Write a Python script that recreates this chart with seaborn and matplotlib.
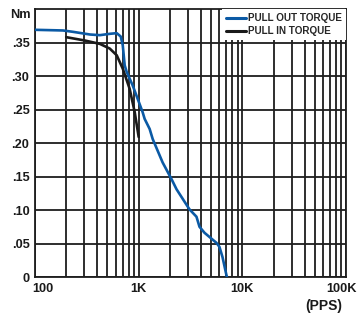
import matplotlib
matplotlib.use("Agg")
import matplotlib.pyplot as plt
import matplotlib.ticker as mticker
import matplotlib.transforms as mtransforms
import numpy as np
import pandas as pd
import seaborn as sns

# values (freq in PPS, torque in Nm)
pull_out_pps = [100, 186, 232, 338, 422, 526, 614, 671, 702, 733, 767, 875,
                1092, 1142, 1276, 1365, 1702, 2076, 2318, 3090, 3610, 3860,
                4316, 5627, 6010, 6430, 7020, 7100]
pull_out_nm = [0.369, 0.368, 0.366, 0.362, 0.361, 0.363, 0.364, 0.359, 0.346,
               0.316, 0.306, 0.286, 0.246, 0.236, 0.221, 0.206, 0.171, 0.146,
               0.131, 0.101, 0.090, 0.075, 0.066, 0.051, 0.045, 0.030, 0.003,
               0.0]

pull_in_pps = [200, 303, 422, 526, 614, 702, 818, 916, 1000]
pull_in_nm = [0.358, 0.353, 0.348, 0.341, 0.331, 0.311, 0.281, 0.246, 0.209]

series_names = ["PULL OUT TORQUE", "PULL IN TORQUE"]
series_colors = ["#0b5aa5", "#1a1a1a"]

y_ticks = [0, 0.05, 0.10, 0.15, 0.20, 0.25, 0.30, 0.35]
y_labels = ["0", ".05", ".10", ".15", ".20", ".25", ".30", ".35"]
x_ticks = [100, 1000, 10000, 100000]
x_labels = ["100", "1K", "10K", "100K"]

df = pd.concat([
    pd.DataFrame({"pps": pull_out_pps, "nm": pull_out_nm, "curve": series_names[0]}),
    pd.DataFrame({"pps": pull_in_pps, "nm": pull_in_nm, "curve": series_names[1]}),
])

sns.set_style("white")
fam = ["Liberation Sans Narrow", "Liberation Sans", "DejaVu Sans"]
plt.rcParams["font.family"] = fam
plt.rcParams["font.weight"] = "bold"

fig = plt.figure(figsize=(3.58, 3.16), dpi=100)
ax = fig.add_axes([0.0978, 0.1234, 0.8687, 0.848])

sns.lineplot(data=df, x="pps", y="nm", hue="curve", hue_order=series_names,
             palette=series_colors, estimator=None, sort=False,
             linewidth=1.9, ax=ax, legend=False, zorder=3)

ax.set_xscale("log")
ax.set_xlim(100, 100000)
ax.set_ylim(0, 0.40)
ax.xaxis.set_major_locator(mticker.FixedLocator(x_ticks))
ax.xaxis.set_minor_locator(mticker.LogLocator(base=10, subs=np.arange(2, 10)))
ax.xaxis.set_minor_formatter(mticker.NullFormatter())
ax.set_xticklabels(x_labels)
ax.set_yticks(y_ticks)
ax.set_yticklabels(y_labels)

ax.grid(True, which="both", axis="both", color="#1e1e1e", linewidth=1.3)
ax.set_axisbelow(True)
for s in ax.spines.values():
    s.set_color("#1e1e1e")
    s.set_linewidth(1.3)
ax.tick_params(axis="both", which="both", length=0, labelsize=9.2,
               colors="#1a1a1a")
ax.tick_params(axis="x", pad=4)
ax.tick_params(axis="y", pad=4)
for lab in ax.get_xticklabels() + ax.get_yticklabels():
    lab.set_fontweight("bold")
xl = ax.get_xticklabels()
xl[0].set_horizontalalignment("left")
xl[0].set_transform(xl[0].get_transform() +
                    mtransforms.ScaledTranslation(-3 / 100, 0, fig.dpi_scale_trans))
xl[-1].set_horizontalalignment("right")
xl[-1].set_transform(xl[-1].get_transform() +
                     mtransforms.ScaledTranslation(11 / 100, 0, fig.dpi_scale_trans))
ax.set_xlabel("")
ax.set_ylabel("")

handles = [plt.Line2D([], [], color=c, linewidth=2.2) for c in series_colors]
leg = ax.legend(handles, series_names, loc="upper right", borderaxespad=0,
                frameon=True, fancybox=False, framealpha=1, facecolor="white",
                edgecolor="none", handlelength=2.1, handletextpad=0.2,
                labelspacing=0.35, borderpad=0.4,
                prop={"family": fam, "weight": "bold", "size": 7.1})
leg.set_zorder(5)

fig.text(31 / 358, 1 - 15 / 316, "Nm", ha="right", va="center",
         fontsize=9.2, fontweight="bold", color="#1a1a1a")
fig.text(324 / 358, 1 - 306 / 316, "(PPS)", ha="center", va="center",
         fontsize=10, fontweight="bold", color="#1a1a1a")

fig.savefig("out.png", dpi=100)
